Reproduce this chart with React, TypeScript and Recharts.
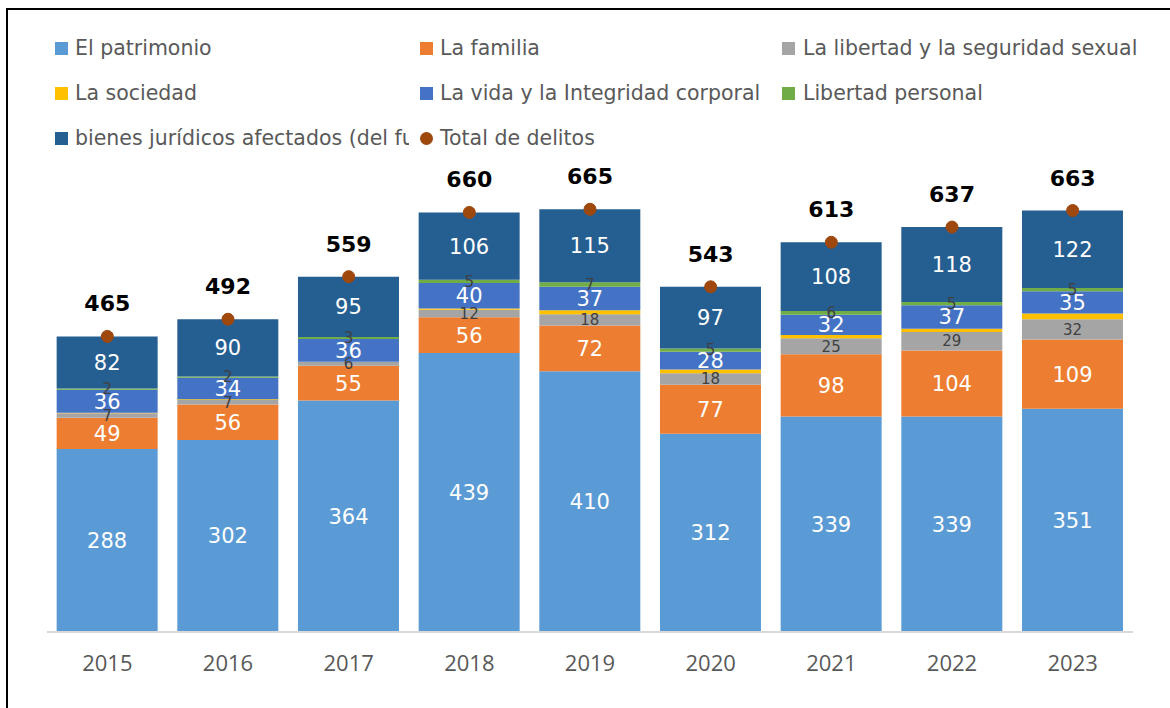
import { ComposedChart, Bar, Line, XAxis, YAxis, LabelList } from 'recharts'

const years = ['2015', '2016', '2017', '2018', '2019', '2020', '2021', '2022', '2023']
const patrimonio = [288, 302, 364, 439, 410, 312, 339, 339, 351]
const familia = [49, 56, 55, 56, 72, 77, 98, 104, 109]
const libertadSexual = [7, 7, 6, 12, 18, 18, 25, 29, 32]
const sociedad = [1, 1, 0, 2, 6, 6, 5, 5, 9]
const vida = [36, 34, 36, 40, 37, 28, 32, 37, 35]
const libertadPersonal = [2, 2, 3, 5, 7, 5, 6, 5, 5]
const bienes = [82, 90, 95, 106, 115, 97, 108, 118, 122]
const totales = [465, 492, 559, 660, 665, 543, 613, 637, 663]

const series = [
  { key: 'patrimonio', name: 'El patrimonio', color: '#5B9BD5', label: 'big' },
  { key: 'familia', name: 'La familia', color: '#ED7D31', label: 'big' },
  { key: 'libertadSexual', name: 'La libertad y la seguridad sexual', color: '#A5A5A5', label: 'small' },
  { key: 'sociedad', name: 'La sociedad', color: '#FFC000', label: 'none' },
  { key: 'vida', name: 'La vida y la Integridad corporal', color: '#4472C4', label: 'big' },
  { key: 'libertadPersonal', name: 'Libertad personal', color: '#70AD47', label: 'small' },
  { key: 'bienes', name: 'bienes jurídicos afectados (del fuero común)', color: '#255E91', label: 'big' },
]

const data = years.map((y, i) => ({
  year: y,
  patrimonio: patrimonio[i],
  familia: familia[i],
  libertadSexual: libertadSexual[i],
  sociedad: sociedad[i],
  vida: vida[i],
  libertadPersonal: libertadPersonal[i],
  bienes: bienes[i],
  total: totales[i],
}))

const font = '"DejaVu Sans", "Open Sans", sans-serif'
const tickFont = '"Open Sans", sans-serif'

// orden de la leyenda como en la imagen (3 columnas)
const legendItems = [
  ...series.map((s) => ({ name: s.name, color: s.color, circle: false })),
  { name: 'Total de delitos', color: '#9E480E', circle: true },
]
const colX = [55, 420, 782]

function Leyenda() {
  return (
    <>
      {legendItems.map((it, i) => {
        const col = i % 3
        const row = Math.floor(i / 3)
        return (
          <div
            key={it.name}
            style={{
              position: 'absolute',
              left: colX[col],
              top: 34 + row * 45,
              width: col === 0 ? 354 : 385,
              height: 28,
              overflow: 'hidden',
              whiteSpace: 'nowrap',
              display: 'flex',
              alignItems: 'center',
              fontFamily: font,
              fontSize: 20.5,
              color: '#595959',
            }}
          >
            <span
              style={{
                display: 'inline-block',
                width: 13,
                height: 13,
                background: it.color,
                borderRadius: it.circle ? '50%' : 0,
                marginRight: col === 2 ? 8 : 7,
                flexShrink: 0,
              }}
            />
            {it.name}
          </div>
        )
      })}
    </>
  )
}

export default function App() {
  return (
    <div style={{ position: 'absolute', left: 0, top: 0, width: 1170, height: 708, background: '#fff' }}>
      <div
        style={{
          position: 'absolute',
          left: 6,
          top: 8,
          width: 1170,
          height: 708,
          borderTop: '2px solid #000',
          borderLeft: '2px solid #000',
        }}
      />
      <Leyenda />
      <div style={{ position: 'absolute', left: 0, top: 0 }}>
        <ComposedChart
          width={1170}
          height={708}
          data={data}
          margin={{ top: 187, right: 37, bottom: 46, left: 47 }}
          barCategoryGap="8%"
        >
          <XAxis
            dataKey="year"
            axisLine={{ stroke: '#D9D9D9', strokeWidth: 2 }}
            tickLine={false}
            tickSize={0}
            tickMargin={23}
            tick={{ fill: '#595959', fontSize: 22, fontFamily: tickFont }}
          />
          <YAxis hide domain={[0, 700]} />
          {series.map((s) => (
            <Bar key={s.key} dataKey={s.key} name={s.name} stackId="a" fill={s.color} isAnimationActive={false}>
              {s.label === 'big' && (
                <LabelList dataKey={s.key} position="center" fill="#fff" fontSize={21} fontFamily={font} />
              )}
              {s.label === 'small' && (
                <LabelList dataKey={s.key} position="center" fill="#404040" fontSize={15} fontFamily={font} />
              )}
            </Bar>
          ))}
          <Line
            dataKey="total"
            name="Total de delitos"
            stroke="none"
            dot={{ r: 6, fill: '#9E480E', stroke: '#9E480E' }}
            activeDot={false}
            isAnimationActive={false}
          >
            <LabelList
              dataKey="total"
              position="top"
              offset={25}
              fill="#000"
              fontSize={22}
              fontWeight="bold"
              fontFamily={font}
            />
          </Line>
        </ComposedChart>
      </div>
    </div>
  )
}
